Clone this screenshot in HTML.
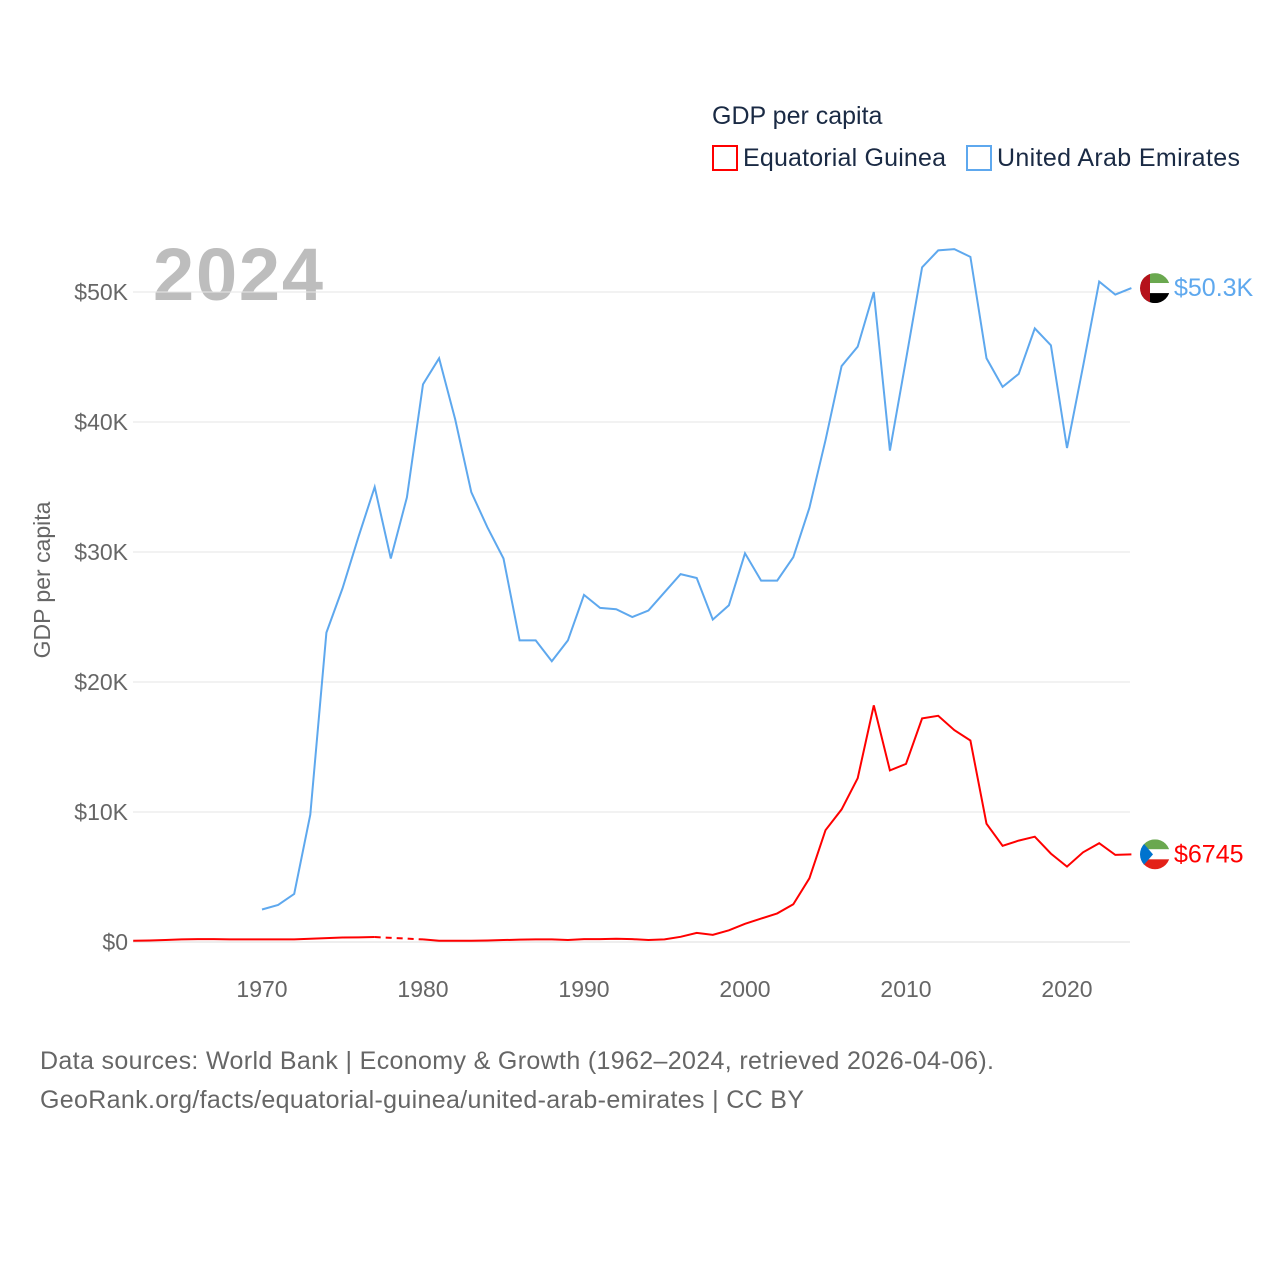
<!DOCTYPE html>
<html><head><meta charset="utf-8"><style>
body{margin:0;background:#fff;font-family:"Liberation Sans",sans-serif}
svg text{font-family:"Liberation Sans",sans-serif}
</style></head><body>
<svg id="chart" width="1280" height="1280" viewBox="0 0 1280 1280" xmlns="http://www.w3.org/2000/svg">
<text x="712" y="124" font-size="25" fill="#1a2a44">GDP per capita</text>
<g><rect x="713" y="146" width="24" height="24" fill="none" stroke="#f00" stroke-width="2"/><text x="743" y="166" font-size="25" fill="#1a2a44" textLength="203">Equatorial Guinea</text></g>
<g><rect x="967" y="146" width="24" height="24" fill="none" stroke="#5ea8ee" stroke-width="2"/><text x="997" y="166" font-size="25" fill="#1a2a44" textLength="243">United Arab Emirates</text></g>
<text x="153" y="300" font-size="74" font-weight="bold" fill="#bdbdbd" textLength="170">2024</text>
<text transform="translate(50,580) rotate(-90)" text-anchor="middle" font-size="23" fill="#666">GDP per capita</text>
<g id="grid"></g><g id="xt"></g><g id="lines"></g>
<text x="40" y="1069" font-size="25" fill="#666" textLength="954">Data sources: World Bank | Economy &amp; Growth (1962–2024, retrieved 2026-04-06).</text>
<text x="40" y="1108" font-size="25" fill="#666" textLength="764">GeoRank.org/facts/equatorial-guinea/united-arab-emirates | CC BY</text>
</svg>
<script>
const yTicks=[0,10,20,30,40,50];
const yTickLabels=["$0","$10K","$20K","$30K","$40K","$50K"];
const xTicks=[1970,1980,1990,2000,2010,2020];
const uaeStart=1970;
const uae=[2.5,2.85,3.7,9.8,23.8,27.2,31.2,35.0,29.5,34.2,42.9,44.9,40.2,34.6,31.9,29.5,23.2,23.2,21.6,23.2,26.7,25.7,25.6,25.0,25.5,26.9,28.3,28.0,24.8,25.9,29.9,27.8,27.8,29.6,33.4,38.6,44.3,45.8,50.0,37.8,44.8,51.9,53.2,53.3,52.7,44.9,42.7,43.7,47.2,45.9,38.0,44.3,50.8,49.8,50.3];
const egStart=1962;
const eg=[0.1,0.12,0.15,0.2,0.22,0.22,0.2,0.2,0.2,0.2,0.2,0.25,0.3,0.35,0.36,0.38,null,null,0.2,0.1,0.1,0.1,0.12,0.15,0.18,0.2,0.2,0.15,0.22,0.22,0.25,0.22,0.15,0.2,0.4,0.7,0.55,0.9,1.4,1.8,2.2,2.9,4.9,8.6,10.2,12.6,18.2,13.2,13.7,17.2,17.4,16.3,15.5,9.1,7.4,7.8,8.1,6.8,5.8,6.9,7.6,6.7,6.745];
const X=y=>133.2+(y-1962)*16.1, Y=v=>942-v*13;
const NS="http://www.w3.org/2000/svg";
function mk(t,a,p){const e=document.createElementNS(NS,t);for(const k in a)e.setAttribute(k,a[k]);p.appendChild(e);return e;}
const grid=document.getElementById('grid');
yTicks.forEach((v,i)=>{const l=mk('line',{x1:133,x2:1130,y1:Y(v),y2:Y(v),stroke:i?'#e6e6e6':'#ddd'},grid);


const t=mk('text',{x:128,y:Y(v)+8,'text-anchor':'end','font-size':23,fill:'#666'},grid);t.textContent=yTickLabels[i];

});
const xt=document.getElementById('xt');
xTicks.forEach(y=>{const t=mk('text',{x:X(y),y:997,'text-anchor':'middle','font-size':23,fill:'#666'},xt);t.textContent=y;

});
const L=document.getElementById('lines');
function series(arr,start,col,name){let segs=[],cur=[];arr.forEach((v,i)=>{if(v==null){if(cur.length)segs.push(cur);cur=[];}else cur.push([X(start+i),Y(v)]);});if(cur.length)segs.push(cur);
segs.forEach((s,k)=>{const p=mk('polyline',{points:s.map(q=>q.join(',')).join(' '),fill:'none',stroke:col,'stroke-width':2},L);


if(k>0){const a=segs[k-1][segs[k-1].length-1];const d=mk('line',{x1:a[0],y1:a[1],x2:s[0][0],y2:s[0][1],stroke:col,'stroke-width':2,'stroke-dasharray':'6,5'},L);

}});}
series(uae,uaeStart,'#5ea8ee','uae');
series(eg,egStart,'#f00','equatorial-guinea');
const uy=Y(uae[uae.length-1]), ey=Y(eg[eg.length-1]);
let g=mk('g',{},L);
mk('clipPath',{id:'c1'},g).appendChild(document.createElementNS(NS,'circle')).setAttribute('r',15);
g.setAttribute('transform',`translate(1155,${uy})`);
mk('rect',{x:-15,y:-15,width:30,height:10,fill:'#6aa84f'},g);mk('rect',{x:-15,y:-5,width:30,height:10,fill:'#fff'},g);mk('rect',{x:-15,y:5,width:30,height:10,fill:'#000'},g);mk('rect',{x:-15,y:-15,width:10,height:30,fill:'#b5121b'},g);
g.querySelectorAll('rect').forEach(r=>r.setAttribute('clip-path','url(#c1)'));
let t=mk('text',{x:1174,y:uy+8,'font-size':25,fill:'#5ea8ee'},L);t.textContent='$50.3K';

g=mk('g',{transform:`translate(1155,${ey})`},L);
mk('clipPath',{id:'c2'},g).appendChild(document.createElementNS(NS,'circle')).setAttribute('r',15);
mk('rect',{x:-15,y:-15,width:30,height:10,fill:'#6aa84f','clip-path':'url(#c2)'},g);mk('rect',{x:-15,y:-5,width:30,height:10,fill:'#fff','clip-path':'url(#c2)'},g);mk('rect',{x:-15,y:5,width:30,height:10,fill:'#e32118','clip-path':'url(#c2)'},g);
mk('polygon',{points:'-15,-15 -2,0 -15,15',fill:'#0073ce','clip-path':'url(#c2)'},g);
t=mk('text',{x:1174,y:ey+8,'font-size':25,fill:'#f00'},L);t.textContent='$6745';

</script>
</body></html>
